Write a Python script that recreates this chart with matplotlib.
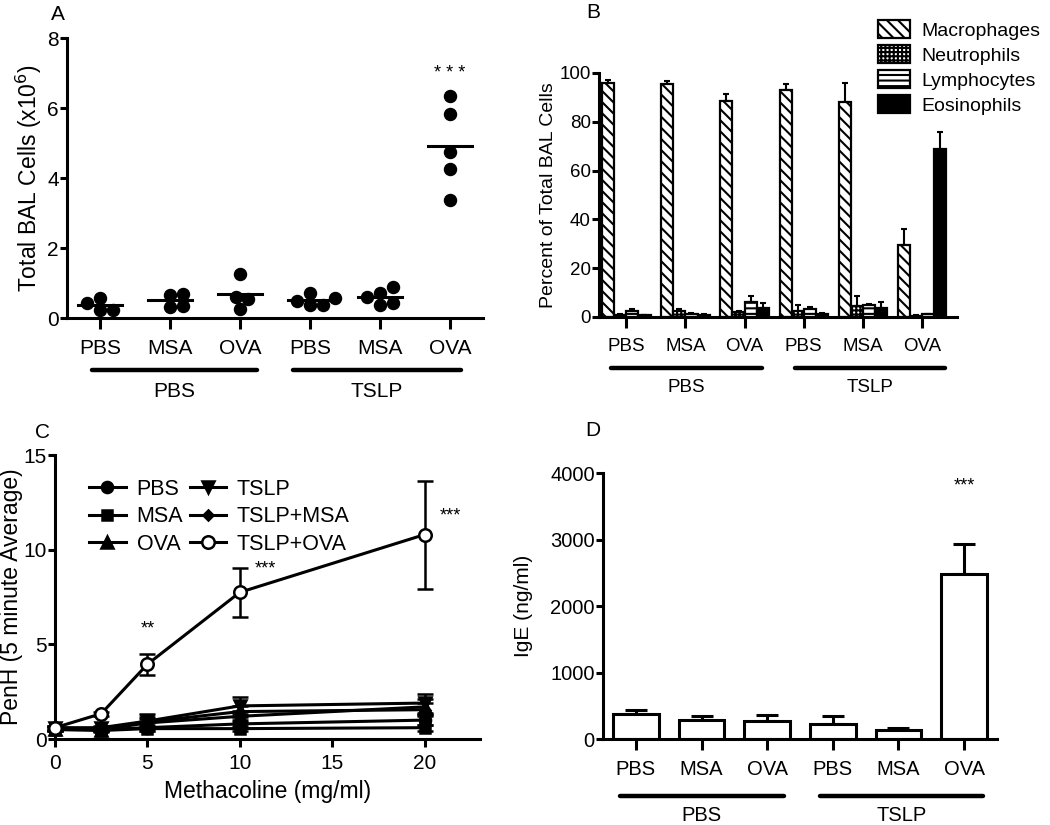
import numpy as np
import matplotlib
matplotlib.use("Agg")
import matplotlib.pyplot as plt
from matplotlib.patches import Patch
from matplotlib.lines import Line2D

plt.rcParams["font.family"] = ["Liberation Sans", "DejaVu Sans"]
plt.rcParams["hatch.linewidth"] = 1.5
plt.rcParams["hatch.color"] = "black"

GROUPS = ["PBS", "MSA", "OVA", "PBS", "MSA", "OVA"]
TREATMENTS = ["PBS", "TSLP"]

# Panel A: total BAL cells (x10^6), individual mice
BAL_POINTS = [
    [0.44, 0.57, 0.22, 0.22],
    [0.67, 0.70, 0.31, 0.33],
    [1.27, 0.60, 0.55, 0.27],
    [0.72, 0.48, 0.57, 0.36, 0.38],
    [0.89, 0.60, 0.72, 0.36, 0.43],
    [6.33, 5.83, 4.75, 4.26, 3.37],
]

# Panel B: percent of total BAL cells
CELL_TYPES = ["Macrophages", "Neutrophils", "Lymphocytes", "Eosinophils"]
MAC = [96.0, 95.5, 88.5, 93.0, 88.0, 29.5]
MAC_ERR = [1.2, 1.2, 3.0, 2.5, 8.0, 6.5]
NEU = [1.0, 2.3, 2.0, 2.3, 4.4, 0.6]
NEU_ERR = [0.2, 1.1, 0.3, 2.5, 4.1, 0.2]
LYM = [2.3, 1.4, 6.1, 3.4, 4.8, 1.2]
LYM_ERR = [1.1, 0.2, 2.4, 0.5, 0.6, 0.2]
EOS = [0.7, 1.0, 3.5, 1.3, 3.7, 69.0]
EOS_ERR = [0.2, 0.2, 2.2, 0.3, 2.4, 6.8]

# Panel C: PenH vs methacholine dose
DOSES = [0, 2.5, 5, 10, 20]
PENH_LABELS = ["PBS", "MSA", "OVA", "TSLP", "TSLP+MSA", "TSLP+OVA"]
PENH = {
    "PBS": [0.60, 0.50, 0.60, 0.80, 1.00],
    "MSA": [0.50, 0.45, 0.55, 0.55, 0.60],
    "OVA": [0.55, 0.50, 0.85, 1.20, 1.70],
    "TSLP": [0.60, 0.60, 0.95, 1.75, 1.90],
    "TSLP+MSA": [0.55, 0.55, 0.90, 1.45, 1.55],
    "TSLP+OVA": [0.60, 1.34, 3.95, 7.75, 10.80],
}
PENH_ERR = {
    "PBS": [0.10, 0.10, 0.15, 0.20, 0.25],
    "MSA": [0.10, 0.10, 0.10, 0.15, 0.15],
    "OVA": [0.10, 0.10, 0.20, 0.30, 0.40],
    "TSLP": [0.10, 0.10, 0.35, 0.45, 0.50],
    "TSLP+MSA": [0.10, 0.10, 0.25, 0.30, 0.35],
    "TSLP+OVA": [0.10, 0.10, 0.55, 1.30, 2.85],
}
PENH_MARKERS = {
    "PBS": ("o", "black", 8),
    "MSA": ("s", "black", 7),
    "OVA": ("^", "black", 8),
    "TSLP": ("v", "black", 8),
    "TSLP+MSA": ("D", "black", 5),
    "TSLP+OVA": ("o", "white", 9),
}

# Panel D: serum IgE
IGE = [380, 290, 275, 230, 140, 2480]
IGE_ERR = [60, 50, 90, 120, 25, 460]

LW = 2.2


def style_axes(ax, fontsize):
    for side in ["top", "right"]:
        ax.spines[side].set_visible(False)
    for side in ["left", "bottom"]:
        ax.spines[side].set_linewidth(LW)
    ax.tick_params(axis="y", direction="out", length=5, width=LW,
                   labelsize=fontsize, pad=1)
    ax.tick_params(axis="x", direction="out", length=8, width=LW,
                   labelsize=fontsize, pad=7)


def add_groups(ax, spans, line_y, label_y, fontsize):
    trans = ax.get_xaxis_transform()
    for name, (x0, x1) in zip(TREATMENTS, spans):
        ax.plot([x0, x1], [line_y, line_y], transform=trans, color="black",
                lw=3.2, solid_capstyle="round", clip_on=False)
        ax.text((x0 + x1) / 2, label_y, name, transform=trans,
                ha="center", va="center", fontsize=fontsize)


def swarm_offsets(values, dx, dy, step):
    # place points so that they do not overlap (simple beeswarm)
    order = np.argsort(values)
    placed = []
    offsets = np.zeros(len(values))
    for i in order:
        cands = [0.0]
        for k in range(1, 30):
            cands += [k * step, -k * step]
        for c in cands:
            ok = True
            for (px, py) in placed:
                if ((c - px) / dx) ** 2 + ((values[i] - py) / dy) ** 2 < 1.0:
                    ok = False
                    break
            if ok:
                offsets[i] = c
                placed.append((c, values[i]))
                break
    return offsets


fig = plt.figure(figsize=(10.5, 8.25), dpi=100)

# ---------------- Panel A ----------------
axA = fig.add_axes([0.0638, 0.6145, 0.3962, 0.3394])
x = np.arange(len(GROUPS))
for i, pts in enumerate(BAL_POINTS):
    pts = np.array(pts)
    offs = swarm_offsets(pts, 0.17, 0.34, 0.06)
    axA.scatter(x[i] + offs, pts, s=75, color="black", zorder=3,
                clip_on=False)
    m = np.mean(pts)
    axA.plot([x[i] - 0.31, x[i] + 0.31], [m, m], color="black", lw=LW,
             zorder=2)
axA.text(x[5], 7.0, "* * *", ha="center", va="center", fontsize=13)
axA.set_xlim(-0.47, 5.47)
axA.set_ylim(0, 8)
axA.set_yticks([0, 2, 4, 6, 8])
axA.set_xticks(x)
axA.set_xticklabels(GROUPS)
axA.set_ylabel("Total BAL Cells (x10$^6$)", fontsize=16.5, labelpad=2)
style_axes(axA, 15)
add_groups(axA, [(-0.12, 2.25), (2.75, 5.15)], -0.186, -0.264, 15)
fig.text(58 / 1050, 1 - 14 / 825, "A", fontsize=15, ha="center",
         va="center")

# ---------------- Panel B ----------------
axB = fig.add_axes([0.5705, 0.6158, 0.341, 0.2958])
bw = 0.205
series = [
    (MAC, MAC_ERR, "white", "\\\\\\"),
    (NEU, NEU_ERR, "white", "++++"),
    (LYM, LYM_ERR, "white", "---"),
    (EOS, EOS_ERR, "black", None),
]
handles = []
for k, (vals, errs, fc, hatch) in enumerate(series):
    pos = x + (k - 1.5) * bw
    axB.errorbar(pos, vals, yerr=[np.zeros(len(vals)), errs], fmt="none",
                 ecolor="black", elinewidth=1.5, capsize=2.5, capthick=1.5,
                 zorder=1)
    axB.bar(pos, vals, width=bw, color=fc, edgecolor="black", linewidth=1.6,
            hatch=hatch, zorder=2)
    handles.append(Patch(facecolor=fc, edgecolor="black", linewidth=1.6,
                         hatch=hatch, label=CELL_TYPES[k]))
axB.set_xlim(-0.46, 5.59)
axB.set_ylim(0, 100)
axB.set_yticks([0, 20, 40, 60, 80, 100])
axB.set_xticks(x)
axB.set_xticklabels(GROUPS)
axB.set_ylabel("Percent of Total BAL Cells", fontsize=14, labelpad=2)
style_axes(axB, 13.5)
add_groups(axB, [(-0.25, 2.29), (2.85, 5.38)], -0.209, -0.287, 13.5)
fig.legend(handles=handles, loc="upper left",
           bbox_to_anchor=(878 / 1050, 1 - 20 / 825), frameon=False,
           fontsize=14, handlelength=1.65, handleheight=1.05,
           handletextpad=0.6, labelspacing=0.28, borderpad=0,
           borderaxespad=0)
fig.text(593 / 1050, 1 - 12 / 825, "B", fontsize=15, ha="center",
         va="center")

# ---------------- Panel C ----------------
axC = fig.add_axes([0.0524, 0.1042, 0.4048, 0.3442])
leg_handles = []
for name in PENH_LABELS:
    mk, mfc, ms = PENH_MARKERS[name]
    axC.errorbar(DOSES, PENH[name], yerr=PENH_ERR[name], color="black",
                 lw=LW, marker=mk, markerfacecolor=mfc,
                 markeredgecolor="black", markeredgewidth=1.8,
                 markersize=ms, capsize=5.5, capthick=1.8, elinewidth=1.8,
                 clip_on=False, zorder=3)
    leg_handles.append(Line2D([], [], color="black", lw=LW, marker=mk,
                              markerfacecolor=mfc, markeredgecolor="black",
                              markeredgewidth=1.8, markersize=ms,
                              label=name))
axC.text(5, 5.8, "**", ha="center", va="center", fontsize=13)
axC.text(11.4, 9.0, "***", ha="center", va="center", fontsize=13)
axC.text(21.4, 11.8, "***", ha="center", va="center", fontsize=13)
axC.set_xlim(0, 23)
axC.set_ylim(0, 15)
axC.set_xticks([0, 5, 10, 15, 20])
axC.set_yticks([0, 5, 10, 15])
axC.set_xlabel("Methacoline (mg/ml)", fontsize=16.5, labelpad=5)
axC.set_ylabel("PenH (5 minute Average)", fontsize=16.5, labelpad=0)
style_axes(axC, 15)
axC.tick_params(axis="x", length=6, pad=5)
axC.legend(handles=leg_handles, loc="upper left",
           bbox_to_anchor=(0.055, 0.955), ncol=2, frameon=False,
           fontsize=15.5, handlelength=1.7, handletextpad=0.5,
           columnspacing=0.3, labelspacing=0.3, borderpad=0, numpoints=1)
fig.text(43 / 1050, 1 - 432 / 825, "C", fontsize=15, ha="center",
         va="center")

# ---------------- Panel D ----------------
axD = fig.add_axes([0.5743, 0.1042, 0.3752, 0.3224])
axD.errorbar(x, IGE, yerr=[np.zeros(len(IGE)), IGE_ERR], fmt="none",
             ecolor="black", elinewidth=LW, capsize=8, capthick=LW, zorder=1)
axD.bar(x, IGE, width=0.7, color="white", edgecolor="black", linewidth=LW,
        zorder=2)
axD.text(x[5], 3800, "***", ha="center", va="center", fontsize=13)
axD.set_xlim(-0.5, 5.5)
axD.set_ylim(0, 4000)
axD.set_yticks([0, 1000, 2000, 3000, 4000])
axD.set_xticks(x)
axD.set_xticklabels(GROUPS)
axD.set_ylabel("IgE (ng/ml)", fontsize=15, labelpad=12)
style_axes(axD, 14.5)
add_groups(axD, [(-0.24, 2.25), (2.8, 5.29)], -0.214, -0.288, 14.5)
fig.text(593 / 1050, 1 - 431 / 825, "D", fontsize=15, ha="center",
         va="center")

fig.savefig("out.png", dpi=100)
